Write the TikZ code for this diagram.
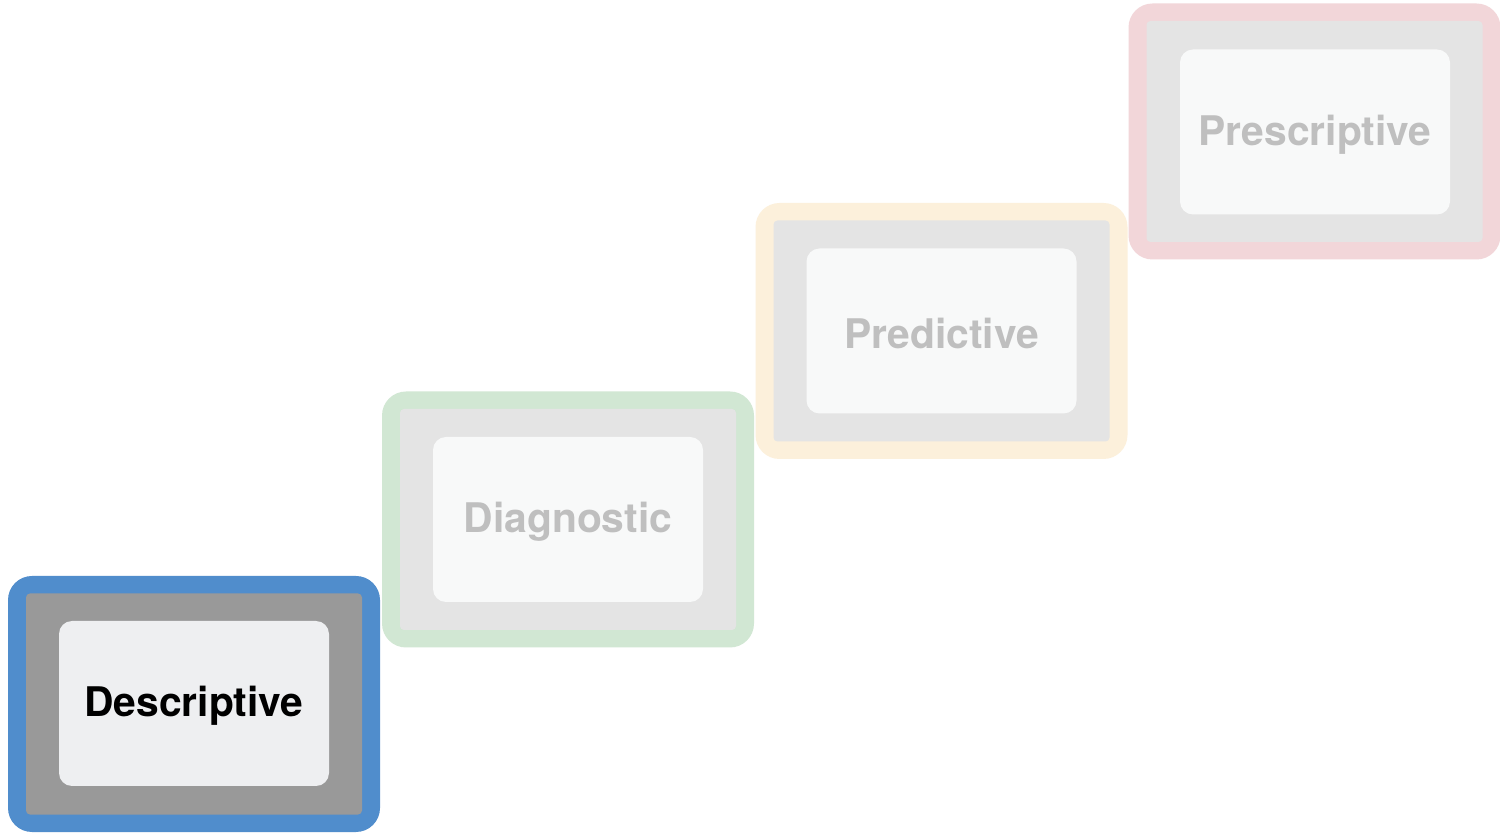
\documentclass[tikz,border=0pt]{standalone}
\usepackage{fontspec}
\setmainfont{TeX Gyre Heros}
\definecolor{cblue}{HTML}{508DCC}
\definecolor{cgreen}{HTML}{D1E7D3}
\definecolor{corange}{HTML}{FCF0DB}
\definecolor{cpink}{HTML}{F2D6D9}
\definecolor{gdark}{HTML}{999999}
\definecolor{glight}{HTML}{E4E4E4}
\definecolor{fdark}{HTML}{EEEFF1}
\definecolor{flight}{HTML}{F8F9F9}
\definecolor{tdim}{HTML}{BFBFBF}
\tikzset{
  outerbox/.style={rectangle, rounded corners=12pt, minimum width=186pt, minimum height=128pt, inner sep=0pt, draw=none},
  midbox/.style={rectangle, rounded corners=2pt, minimum width=168pt, minimum height=110.5pt, inner sep=0pt, draw=none},
  labelbox/.style={rectangle, rounded corners=6.5pt, minimum width=135pt, minimum height=82.5pt, inner sep=0pt, draw=none},
  labeltext/.style={inner sep=0pt, yshift=-1.2pt, font=\fontsize{20.4}{24}\selectfont\bfseries},
}
\begin{document}
\begin{tikzpicture}[x=0.5pt,y=-0.5pt]
\useasboundingbox[fill=white] (0,0) rectangle (1500,833);
% Descriptive
\node[outerbox, fill=cblue] (o1) at (194,704) {};
\node[midbox, fill=gdark] (m1) at (o1) {};
\node[labelbox, fill=fdark] (b1) at (194,703.5) {};
\node[labeltext, text=black] (t1) at (b1) {Descriptive};
% Diagnostic
\node[outerbox, fill=cgreen] (o2) at (568,519.5) {};
\node[midbox, fill=glight] (m2) at (o2) {};
\node[labelbox, fill=flight] (b2) at (568,519.5) {};
\node[labeltext, text=tdim] (t2) at (b2) {Diagnostic};
% Predictive
\node[outerbox, fill=corange] (o3) at (941.5,331) {};
\node[midbox, fill=glight] (m3) at (o3) {};
\node[labelbox, fill=flight] (b3) at (941.5,331) {};
\node[labeltext, text=tdim] (t3) at (b3) {Predictive};
% Prescriptive
\node[outerbox, fill=cpink] (o4) at (1314.5,131.5) {};
\node[midbox, fill=glight] (m4) at (o4) {};
\node[labelbox, fill=flight] (b4) at (1315,132) {};
\node[labeltext, text=tdim] (t4) at (b4) {Prescriptive};
\end{tikzpicture}
\end{document}
